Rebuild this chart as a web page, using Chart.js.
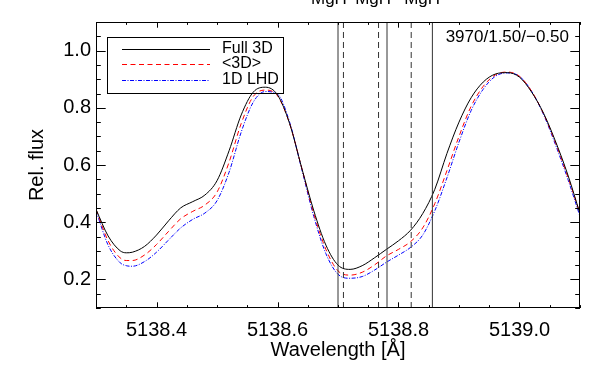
<!DOCTYPE html>
<html>
<head>
<meta charset="utf-8">
<script src="https://cdn.jsdelivr.net/npm/chart.js@4"></script>
<style>
  html, body { margin: 0; padding: 0; background: #fff; }
</style>
</head>
<body>
<canvas id="fluxChart" width="598" height="365"></canvas>
<script>
// wavelength grid [Å] and the three profiles
const wavelength = [5138.30, 5138.32, 5138.34, 5138.35, 5138.36, 5138.38, 5138.40, 5138.42, 5138.44, 5138.46,
  5138.48, 5138.50, 5138.52, 5138.54, 5138.56, 5138.58, 5138.60, 5138.62, 5138.64, 5138.66,
  5138.68, 5138.70, 5138.72, 5138.74, 5138.76, 5138.78, 5138.80, 5138.82, 5138.84, 5138.86,
  5138.88, 5138.90, 5138.92, 5138.94, 5138.96, 5138.98, 5139.00, 5139.02, 5139.04, 5139.06,
  5139.08, 5139.10];
const full3D = [0.445, 0.352, 0.300, 0.293, 0.295, 0.315, 0.355, 0.405, 0.450, 0.472,
  0.495, 0.545, 0.650, 0.775, 0.855, 0.872, 0.845, 0.745, 0.590, 0.440,
  0.320, 0.250, 0.235, 0.248, 0.275, 0.305, 0.335, 0.372, 0.430, 0.515,
  0.640, 0.750, 0.835, 0.890, 0.918, 0.923, 0.907, 0.855, 0.780, 0.680,
  0.565, 0.430];
const mean3D = [0.445, 0.335, 0.275, 0.266, 0.266, 0.285, 0.322, 0.368, 0.412, 0.438,
  0.460, 0.505, 0.610, 0.745, 0.840, 0.862, 0.842, 0.745, 0.590, 0.430,
  0.305, 0.230, 0.215, 0.225, 0.250, 0.282, 0.305, 0.332, 0.380, 0.465,
  0.580, 0.700, 0.805, 0.875, 0.915, 0.925, 0.910, 0.858, 0.778, 0.675,
  0.558, 0.430];
const lhd1D = [0.440, 0.320, 0.258, 0.248, 0.246, 0.262, 0.295, 0.338, 0.380, 0.410,
  0.432, 0.475, 0.575, 0.715, 0.820, 0.857, 0.848, 0.750, 0.585, 0.420,
  0.290, 0.218, 0.204, 0.210, 0.232, 0.260, 0.285, 0.312, 0.355, 0.440,
  0.555, 0.680, 0.790, 0.865, 0.910, 0.922, 0.910, 0.858, 0.775, 0.668,
  0.550, 0.420];

// MgH line positions
const solidLines = [5138.700, 5138.781, 5138.856];
const dashedLines = [5138.709, 5138.767, 5138.821];
const mghLabelPos = [5138.685, 5138.758, 5138.839];

const xTicks = [5138.4, 5138.6, 5138.8, 5139.0];
const xTickLabels = ['5138.4', '5138.6', '5138.8', '5139.0'];
const yTicks = [0.2, 0.4, 0.6, 0.8, 1.0];
const yTickLabels = ['0.2', '0.4', '0.6', '0.8', '1.0'];

const FONT = 'Liberation Sans, Arial, Helvetica, sans-serif';
const series = [
  { label: 'Full 3D', values: full3D, color: '#000000', dash: [] },
  { label: '<3D>', values: mean3D, color: '#ff0000', dash: [5, 3.5] },
  { label: '1D LHD', values: lhd1D, color: '#0000ff', dash: [4, 1.5, 1, 1.5] }
];

const datasets = [];
solidLines.forEach(w => datasets.push({
  data: [{ x: w, y: 0.1 }, { x: w, y: 1.1 }],
  borderColor: '#333', borderWidth: 1, pointRadius: 0
}));
dashedLines.forEach(w => datasets.push({
  data: [{ x: w, y: 0.1 }, { x: w, y: 1.1 }],
  borderColor: '#333', borderWidth: 1, borderDash: [6, 4], pointRadius: 0
}));
series.forEach(s => datasets.push({
  label: s.label,
  data: wavelength.map((w, i) => ({ x: w, y: s.values[i] })),
  borderColor: s.color, borderWidth: 1, borderDash: s.dash,
  pointRadius: 0, cubicInterpolationMode: 'monotone'
}));

// IDL-like frame, inward ticks, legend box and labels
const framePlugin = {
  id: 'frame',
  afterDraw(chart) {
    const ctx = chart.ctx;
    const a = chart.chartArea;
    const xs = chart.scales.x, ys = chart.scales.y;
    ctx.save();
    ctx.strokeStyle = '#000';
    ctx.lineWidth = 1;
    ctx.strokeRect(a.left + 0.5, a.top + 0.5, a.right - a.left - 1, a.bottom - a.top - 1);
    ctx.beginPath();
    for (let k = 0; k <= 16; k++) {
      const v = 5138.3 + k * 0.05;
      const px = Math.round(xs.getPixelForValue(v)) + 0.5;
      const len = (k % 4 === 2) ? 5.7 : 2.9;
      ctx.moveTo(px, a.bottom); ctx.lineTo(px, a.bottom - len);
      ctx.moveTo(px, a.top); ctx.lineTo(px, a.top + len);
    }
    for (let k = 0; k <= 20; k++) {
      const v = 0.1 + k * 0.05;
      const py = Math.round(ys.getPixelForValue(v)) + 0.5;
      const len = (k % 4 === 2) ? 9.7 : 4.8;
      ctx.moveTo(a.left, py); ctx.lineTo(a.left + len, py);
      ctx.moveTo(a.right, py); ctx.lineTo(a.right - len, py);
    }
    ctx.stroke();

    // legend
    ctx.strokeRect(107.5, 37.5, 176, 56);
    const rows = [49.5, 64.5, 80.5];
    ctx.font = '16px ' + FONT;
    ctx.textBaseline = 'middle';
    ctx.textAlign = 'left';
    series.forEach((s, i) => {
      ctx.beginPath();
      ctx.strokeStyle = s.color;
      ctx.setLineDash(s.dash);
      ctx.moveTo(122, rows[i]); ctx.lineTo(210, rows[i]);
      ctx.stroke();
      ctx.setLineDash([]);
      ctx.fillStyle = '#000';
      ctx.fillText(s.label, 222, rows[i] - 0.5);
    });

    ctx.fillStyle = '#000';
    ctx.font = '17px ' + FONT;
    ctx.textAlign = 'right';
    ctx.fillText('3970/1.50/\u22120.50', 569, 37);

    ctx.textAlign = 'center';
    ctx.textBaseline = 'alphabetic';
    mghLabelPos.forEach(w => ctx.fillText('MgH', xs.getPixelForValue(w), 4));
    ctx.restore();
  }
};

new Chart(document.getElementById('fluxChart').getContext('2d'), {
  type: 'line',
  data: { datasets },
  options: {
    responsive: false,
    animation: false,
    layout: { padding: { top: 22, right: 18, left: 0, bottom: 0 } },
    plugins: { legend: { display: false }, tooltip: { enabled: false } },
    scales: {
      x: {
        type: 'linear', min: 5138.3, max: 5139.1,
        afterBuildTicks: s => { s.ticks = xTicks.map(v => ({ value: v })); },
        afterFit: s => { s.height = 57; },
        grid: { display: false, drawTicks: false },
        border: { display: false },
        ticks: {
          callback: (v, i) => xTickLabels[i],
          font: { size: 20, family: FONT }, color: '#000',
          padding: 10, maxRotation: 0, autoSkip: false
        },
        title: {
          display: true, text: 'Wavelength [Å]', color: '#000',
          font: { size: 20, family: FONT }, padding: { top: 0, bottom: 3 }
        }
      },
      y: {
        type: 'linear', min: 0.1, max: 1.1,
        afterBuildTicks: s => { s.ticks = yTicks.map(v => ({ value: v })); },
        afterFit: s => { s.width = 96; },
        grid: { display: false, drawTicks: false },
        border: { display: false },
        ticks: {
          callback: (v, i) => yTickLabels[i],
          font: { size: 20, family: FONT }, color: '#000', padding: 5
        },
        title: {
          display: true, text: 'Rel. flux', color: '#000',
          font: { size: 20, family: FONT }, padding: { top: 25, bottom: 0 }
        }
      }
    }
  },
  plugins: [framePlugin]
});
</script>
</body>
</html>
